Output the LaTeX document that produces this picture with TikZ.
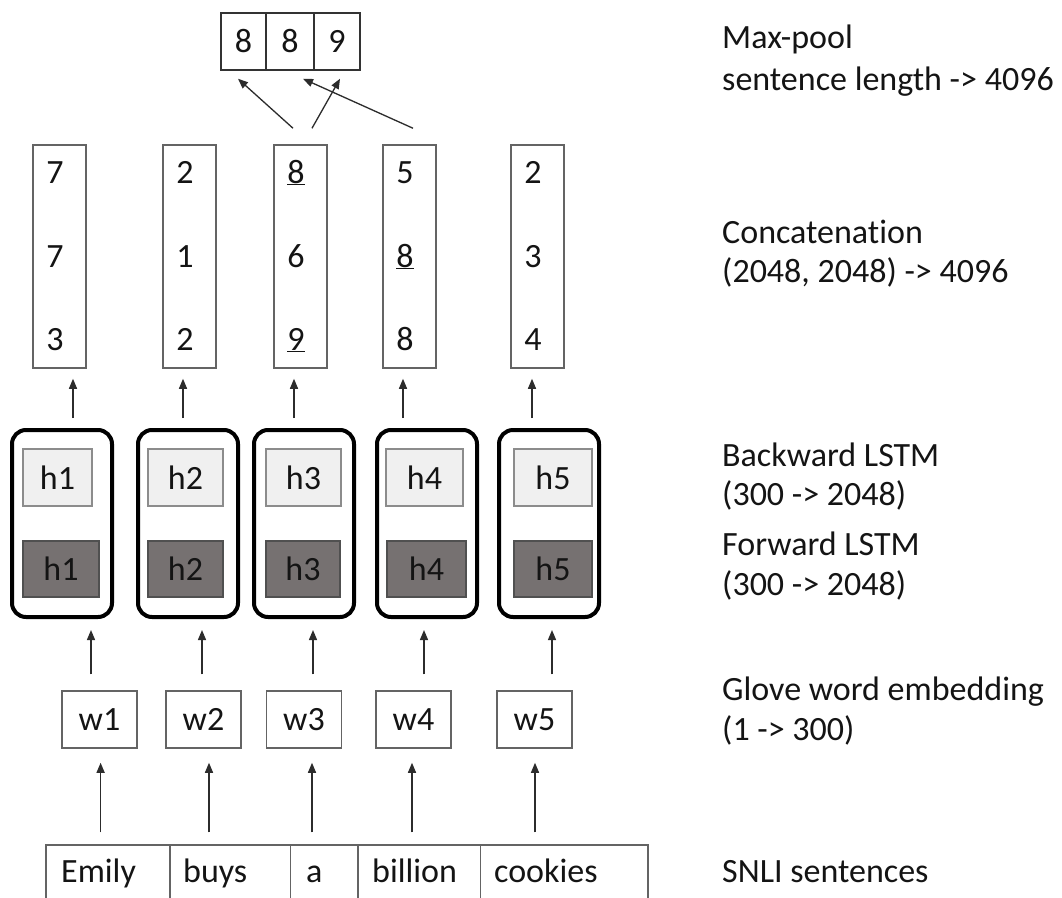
\documentclass[tikz,border=0pt]{standalone}
\usepackage{fontspec}
\setmainfont{Carlito}[Ligatures={NoCommon}]
\usetikzlibrary{arrows.meta}
\definecolor{lightbox}{RGB}{240,240,240}
\definecolor{darkbox}{RGB}{118,113,113}
\definecolor{edgegray}{RGB}{100,100,100}
\definecolor{lightedge}{RGB}{140,140,140}
\definecolor{darkedge}{RGB}{80,80,80}
\definecolor{ink}{RGB}{20,20,20}
\begin{document}
\begin{tikzpicture}[x=1pt,y=-1pt,
  every node/.style={font=\fontsize{34}{40}\selectfont, inner sep=0pt, text=ink},
  arr/.style={draw=ink!90, line width=1.3pt, -{Triangle[length=10pt,width=8pt]}},
  mp/.style={draw=black!80, line width=1.5pt, rectangle, minimum height=57pt},
  catbox/.style={draw=edgegray, line width=1.5pt, rectangle, minimum width=53pt, minimum height=223pt},
  num/.style={anchor=base},
  lstm/.style={draw=black, line width=4pt, rounded corners=14pt, rectangle, minimum width=100pt, minimum height=187pt},
  bw/.style={draw=lightedge, fill=lightbox, line width=1.5pt, rectangle, minimum height=57pt},
  fw/.style={draw=darkedge, fill=darkbox, line width=1.5pt, rectangle, minimum height=56pt},
  wbox/.style={draw=edgegray, line width=1.5pt, rectangle, minimum width=75pt, minimum height=57pt},
  scell/.style={draw=edgegray, line width=1.4pt, rectangle, minimum height=70pt},
  word/.style={anchor=base west},
  lab/.style={anchor=base west}
]
\fill[white] (0,0) rectangle (1062,897);
\useasboundingbox (0,0) rectangle (1062,897);

% Max-pool
\node[mp, minimum width=45pt] (m1) at (243.5,41.5) {8};
\node[mp, minimum width=48pt] (m2) at (290,41.5) {8};
\node[mp, minimum width=46pt] (m3) at (337,41.5) {9};

% Concatenation columns
\node[catbox] (c1) at (59.5,256.5) {};
\node[catbox] (c2) at (189.5,256.5) {};
\node[catbox] (c3) at (300.5,256.5) {};
\node[catbox] (c4) at (409.5,256.5) {};
\node[catbox] (c5) at (537.5,256.5) {};

\node[num] (c1a) at (55,183) {7};
\node[num] (c1b) at (55,267) {7};
\node[num] (c1c) at (55,350) {3};
\node[num] (c2a) at (185,183) {2};
\node[num] (c2b) at (185,267) {1};
\node[num] (c2c) at (185,350) {2};
\node[num] (c3a) at (296,183) {\underline{8}};
\node[num] (c3b) at (296,267) {6};
\node[num] (c3c) at (296,350) {\underline{9}};
\node[num] (c4a) at (405,183) {5};
\node[num] (c4b) at (405,267) {\underline{8}};
\node[num] (c4c) at (405,350) {8};
\node[num] (c5a) at (533,183) {2};
\node[num] (c5b) at (533,267) {3};
\node[num] (c5c) at (533,350) {4};

% LSTM blocks
\node[lstm] (l1) at (62,523.5) {};
\node[lstm] (l2) at (188,523.5) {};
\node[lstm] (l3) at (304,523.5) {};
\node[lstm] (l4) at (427,523.5) {};
\node[lstm] (l5) at (549,523.5) {};

\node[bw, minimum width=69pt] (b1) at (57.5,477.5) {h1};
\node[bw, minimum width=75pt] (b2) at (185.5,477.5) {h2};
\node[bw, minimum width=75pt] (b3) at (303.5,477.5) {h3};
\node[bw, minimum width=77pt] (b4) at (424.5,477.5) {h4};
\node[bw, minimum width=78pt] (b5) at (553,477.5) {h5};

\node[fw, minimum width=76pt] (f1) at (61,569) {h1};
\node[fw, minimum width=75pt] (f2) at (185.5,569) {h2};
\node[fw, minimum width=74pt] (f3) at (303,569) {h3};
\node[fw, minimum width=79pt] (f4) at (426.5,569) {h4};
\node[fw, minimum width=78pt] (f5) at (553,569) {h5};

% word embeddings
\node[wbox] (w1) at (99.5,719.5) {w1};
\node[wbox] (w2) at (203.5,719.5) {w2};
\node[wbox] (w3) at (304,719.5) {w3};
\node[wbox] (w4) at (413.5,719.5) {w4};
\node[wbox] (w5) at (534.5,719.5) {w5};

% SNLI sentence cells
\node[scell, minimum width=124pt] (s1) at (108,880) {};
\node[scell, minimum width=120.5pt] (s2) at (230.25,880) {};
\node[scell, minimum width=67.5pt] (s3) at (324.25,880) {};
\node[scell, minimum width=122.5pt] (s4) at (419.25,880) {};
\node[scell, minimum width=167.5pt] (s5) at (564.25,880) {};

\node[word] (t1) at (61,882) {Emily};
\node[word] (t2) at (183,882) {buys};
\node[word] (t3) at (306,882) {a};
\node[word] (t4) at (372,882) {billion};
\node[word] (t5) at (494,882) {cookies};

% arrows: sentence -> word embedding
\draw[arr] ([xshift=-7.4pt,yshift=12pt]s1.north) -- ([xshift=1.1pt,yshift=-14pt]w1.south);
\draw[arr] ([xshift=-21.25pt,yshift=12pt]s2.north) -- ([xshift=5.5pt,yshift=-14pt]w2.south);
\draw[arr] ([xshift=-12.25pt,yshift=12pt]s3.north) -- ([xshift=8pt,yshift=-14pt]w3.south);
\draw[arr] ([xshift=-7.25pt,yshift=12pt]s4.north) -- ([xshift=-1.5pt,yshift=-14pt]w4.south);
\draw[arr] ([xshift=-29.25pt,yshift=12pt]s5.north) -- ([xshift=0.5pt,yshift=-14pt]w5.south);

% arrows: word embedding -> LSTM
\draw[arr] ([xshift=-8.5pt,yshift=16pt]w1.north) -- ([xshift=29pt,yshift=-11pt]l1.south);
\draw[arr] ([xshift=-1.5pt,yshift=16pt]w2.north) -- ([xshift=14pt,yshift=-11pt]l2.south);
\draw[arr] ([xshift=9pt,yshift=16pt]w3.north) -- ([xshift=9pt,yshift=-11pt]l3.south);
\draw[arr] ([xshift=10.5pt,yshift=16pt]w4.north) -- ([xshift=-3pt,yshift=-11pt]l4.south);
\draw[arr] ([xshift=17.5pt,yshift=16pt]w5.north) -- ([xshift=3pt,yshift=-11pt]l5.south);

% arrows: LSTM -> concatenation
\draw[arr] ([xshift=11pt,yshift=10pt]l1.north) -- ([xshift=13.5pt,yshift=-10pt]c1.south);
\draw[arr] ([xshift=-5pt,yshift=10pt]l2.north) -- ([xshift=-6.5pt,yshift=-10pt]c2.south);
\draw[arr] ([xshift=-10pt,yshift=10pt]l3.north) -- ([xshift=-6.5pt,yshift=-10pt]c3.south);
\draw[arr] ([xshift=-24pt,yshift=10pt]l4.north) -- ([xshift=-6.5pt,yshift=-10pt]c4.south);
\draw[arr] ([xshift=-17pt,yshift=10pt]l5.north) -- ([xshift=-5.5pt,yshift=-10pt]c5.south);

% arrows: concatenation -> max-pool
\draw[arr] ([xshift=-7.5pt,yshift=16pt]c3.north) -- ([xshift=-5.5pt,yshift=-8pt]m1.south);
\draw[arr] ([xshift=11.5pt,yshift=16pt]c3.north) -- ([xshift=3pt,yshift=-8pt]m3.south);
\draw[arr] ([xshift=3.5pt,yshift=16pt]c4.north) -- ([xshift=13pt,yshift=-8pt]m2.south);

% labels
\node[lab] (L1) at (722,48) {Max-pool};
\node[lab] (L2) at (722,90) {sentence length -> 4096};
\node[lab] (L3) at (722,243) {Concatenation};
\node[lab] (L4) at (722,282) {(2048, 2048) -> 4096};
\node[lab] (L5) at (722,466) {Backward LSTM};
\node[lab] (L6) at (722,505) {(300 -> 2048)};
\node[lab] (L7) at (722,555) {Forward LSTM};
\node[lab] (L8) at (722,595) {(300 -> 2048)};
\node[lab] (L9) at (722,700) {Glove word embedding};
\node[lab] (L10) at (722,740) {(1 -> 300)};
\node[lab] (L11) at (722,882) {SNLI sentences};
\end{tikzpicture}
\end{document}
